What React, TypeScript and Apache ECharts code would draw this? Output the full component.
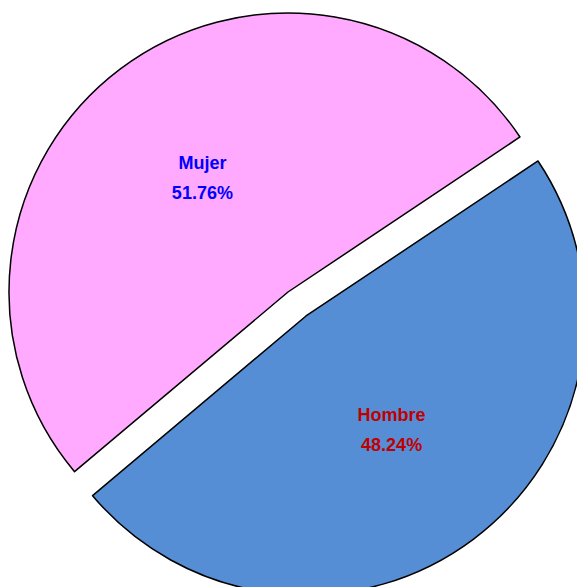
import React, { useEffect, useRef } from "react";
import * as echarts from "echarts";

const categories = ["Mujer", "Hombre"];
const values = [51.76, 48.24];
const sliceColors = ["#FFAAFF", "#558ED5"];
const labelColors = ["#0000FF", "#C00000"];
const exploded = [false, true];

export default function App() {
  const ref = useRef<HTMLDivElement>(null);
  useEffect(() => {
    if (!ref.current) return;
    const chart = echarts.init(ref.current, null, { renderer: "svg" });
    chart.setOption({
      animation: false,
      backgroundColor: "#ffffff",
      series: [
        {
          type: "pie",
          center: [288, 292],
          radius: [0, 279],
          startAngle: 33.75,
          clockwise: false,
          selectedMode: "single",
          selectedOffset: 30,
          avoidLabelOverlap: false,
          emphasis: { disabled: true },
          itemStyle: { borderColor: "#000000", borderWidth: 1.5 },
          label: {
            show: true,
            position: "inside",
            formatter: "{b}\n{d}%",
            fontFamily: "Liberation Sans, Arial, sans-serif",
            fontWeight: "bold",
            fontSize: 18,
            lineHeight: 30,
          },
          labelLine: { show: false },
          data: categories.map((name, i) => ({
            name,
            value: values[i],
            selected: exploded[i],
            itemStyle: { color: sliceColors[i] },
            label: { color: labelColors[i] },
          })),
        },
      ],
    });
    return () => chart.dispose();
  }, []);
  return (
    <div
      ref={ref}
      style={{ position: "fixed", left: 0, top: 0, width: 577, height: 587 }}
    />
  );
}
